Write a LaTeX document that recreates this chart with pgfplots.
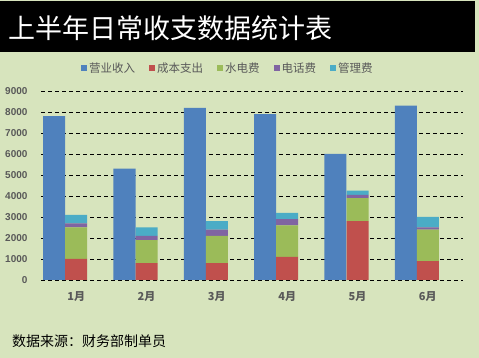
\documentclass[border=0pt]{standalone}
\usepackage{pgfplots}
\pgfplotsset{compat=1.18}
\usepackage{fontspec}
\setmainfont{Liberation Sans}
\newfontfamily\cjk{Noto Sans CJK SC}
\definecolor{bgc}{HTML}{D7E4BD}
\definecolor{cblue}{HTML}{4F81BD}
\definecolor{cred}{HTML}{C0504D}
\definecolor{cgreen}{HTML}{9BBB59}
\definecolor{cpurple}{HTML}{8064A2}
\definecolor{ccyan}{HTML}{4BACC6}
\definecolor{tgray}{HTML}{595959}
\begin{document}
\begin{tikzpicture}
\path[use as bounding box] (0pt,0pt) rectangle (479pt,358pt);
\fill[bgc] (0pt,0pt) rectangle (479pt,358pt);
\fill[black] (0pt,306pt) rectangle (475pt,357pt);
\node[anchor=west, text=white, inner sep=0pt, font=\cjk\fontsize{27}{27}\selectfont] at (8pt,330pt) {上半年日常收支数据统计表};
\node[anchor=west, inner sep=0pt, font=\cjk\fontsize{14}{14}\selectfont] at (12pt,17pt) {数据来源：财务部制单员};
\pgfplotsset{
  base/.style={
    at={(41pt,78pt)}, anchor=south west,
    scale only axis, width=422pt, height=189pt,
    xmin=-0.5, xmax=5.5, ymin=0, ymax=9000,
    axis line style={draw=none}, tick style={draw=none},
  }
}
\begin{axis}[base,
  ybar, bar width=22pt, bar shift=-22pt,
  ymajorgrids, grid style={black, line width=0.6pt, dash pattern=on 4pt off 3pt},
  ytick={0,1000,...,9000},
  xtick={0,1,2,3,4,5},
  xticklabels={1月,2月,3月,4月,5月,6月},
  /pgf/number format/assume math mode=true,
  /pgf/number format/1000 sep={},
  yticklabel style={font=\bfseries\fontsize{10}{10}\selectfont, text=tgray, xshift=-10pt},
  xticklabel style={font=\cjk\bfseries\fontsize{11}{11}\selectfont, text=tgray, yshift=-4pt},
]
\addplot[fill=cblue, draw=none] coordinates {(0,7800) (1,5300) (2,8200) (3,7900) (4,6000) (5,8300)};
\end{axis}
\begin{axis}[base, hide axis,
  ybar stacked, bar width=22pt, bar shift=0pt,
  legend columns=5,
  legend style={at={(0.443,1.122)}, anchor=center, draw=none, fill=none,
    font=\cjk\fontsize{11.5}{12}\selectfont, text=tgray,
    /tikz/every even column/.append style={column sep=12pt}},
  legend image code/.code={\fill[#1] (0pt,-3pt) rectangle (6pt,3pt);},
]
\addlegendimage{fill=cblue, draw=none}
\addlegendentry{营业收入}
\addplot[fill=cred, draw=none] coordinates {(0,1000) (1,800) (2,800) (3,1100) (4,2800) (5,900)};
\addlegendentry{成本支出}
\addplot[fill=cgreen, draw=none] coordinates {(0,1500) (1,1100) (2,1300) (3,1500) (4,1100) (5,1500)};
\addlegendentry{水电费}
\addplot[fill=cpurple, draw=none] coordinates {(0,200) (1,200) (2,300) (3,300) (4,150) (5,100)};
\addlegendentry{电话费}
\addplot[fill=ccyan, draw=none] coordinates {(0,400) (1,400) (2,400) (3,300) (4,200) (5,500)};
\addlegendentry{管理费}
\end{axis}
\end{tikzpicture}
\end{document}
